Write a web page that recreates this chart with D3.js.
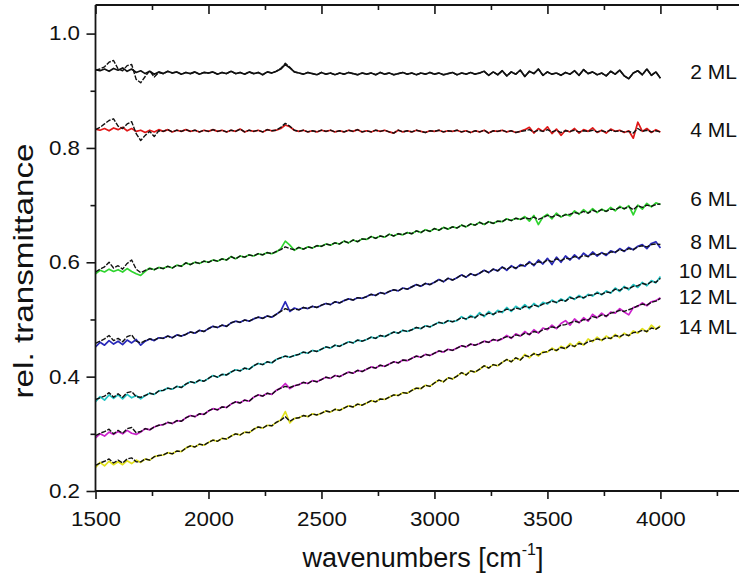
<!DOCTYPE html>
<html>
<head>
<meta charset="utf-8">
<script src="https://cdn.jsdelivr.net/npm/d3@7"></script>
<style>
  body { margin: 0; background: #fff; }
  svg { display: block; }
  text { font-family: "Liberation Sans", Arial, Helvetica, sans-serif; fill: #111; }
</style>
</head>
<body>
<svg id="chart" width="739" height="579"></svg>
<script>
// Sampling grid of the spectra (cm^-1)
const wavenumbers = d3.range(1500, 4001, 20);

const seriesLabels = ["2 ML", "4 ML", "6 ML", "8 ML", "10 ML", "12 ML", "14 ML"];
const seriesColors = ["#111111", "#e01818", "#2fd42f", "#2828b8", "#22c4c4", "#cc22cc", "#e2e21c"];
// vertical anchor (in transmittance) of each film label at the right
const labelValues = [0.934, 0.832, 0.712, 0.637, 0.585, 0.541, 0.488];

const xMajorTicks = [1500, 2000, 2500, 3000, 3500, 4000];
const xMinorTicks = [1750, 2250, 2750, 3250, 3750, 4250];
const yMajorTicks = [0.2, 0.4, 0.6, 0.8, 1.0];
const yMinorTicks = [0.3, 0.5, 0.7, 0.9];

// measured spectra (solid, coloured)
const measured2 = [0.937,0.935,0.938,0.934,0.939, 0.936,0.940,0.934,0.938,0.932, 0.935,0.930,0.934,0.929,0.933, 0.930,0.934,0.931,0.933,0.929, 0.932,0.930,0.933,0.929,0.932, 0.931,0.933,0.929,0.932,0.930, 0.934,0.930,0.932,0.929,0.933, 0.930,0.932,0.928,0.933,0.931, 0.934,0.938,0.946,0.940,0.933, 0.931,0.929,0.932,0.930,0.928, 0.932,0.929,0.931,0.928,0.931, 0.929,0.932,0.930,0.928,0.931, 0.929,0.931,0.928,0.932,0.929, 0.931,0.928,0.930,0.932,0.929, 0.931,0.928,0.931,0.929,0.932, 0.929,0.931,0.928,0.930,0.932, 0.928,0.931,0.929,0.932,0.929, 0.931,0.934,0.927,0.933,0.928, 0.935,0.926,0.933,0.929,0.936, 0.925,0.934,0.930,0.938,0.927, 0.933,0.929,0.931,0.927,0.932, 0.929,0.935,0.927,0.937,0.930, 0.933,0.928,0.931,0.926,0.934, 0.929,0.936,0.926,0.921,0.931, 0.935,0.928,0.938,0.927,0.933, 0.922];
const measured4 = [0.833,0.831,0.834,0.830,0.835, 0.832,0.836,0.830,0.834,0.829, 0.831,0.827,0.831,0.828,0.832, 0.829,0.832,0.828,0.831,0.829, 0.832,0.829,0.831,0.828,0.831, 0.829,0.832,0.829,0.831,0.828, 0.831,0.829,0.833,0.828,0.831, 0.829,0.831,0.828,0.832,0.830, 0.831,0.834,0.840,0.837,0.831, 0.829,0.831,0.828,0.830,0.828, 0.831,0.829,0.831,0.828,0.830, 0.828,0.831,0.829,0.832,0.828, 0.830,0.828,0.831,0.829,0.831, 0.828,0.826,0.831,0.828,0.830, 0.828,0.831,0.829,0.827,0.830, 0.829,0.831,0.828,0.830,0.829, 0.831,0.828,0.830,0.827,0.830, 0.828,0.831,0.826,0.830,0.829, 0.831,0.828,0.830,0.827,0.829, 0.832,0.836,0.826,0.834,0.829, 0.837,0.825,0.833,0.822,0.831, 0.828,0.834,0.826,0.832,0.829, 0.835,0.827,0.831,0.826,0.833, 0.829,0.831,0.827,0.830,0.817, 0.845,0.829,0.834,0.827,0.832, 0.828];
const measured6 = [0.580,0.586,0.583,0.588,0.584, 0.587,0.583,0.589,0.584,0.580, 0.577,0.584,0.590,0.587,0.591, 0.589,0.593,0.590,0.595,0.593, 0.599,0.596,0.600,0.598,0.602, 0.600,0.604,0.602,0.606,0.604, 0.610,0.606,0.611,0.609,0.613, 0.611,0.615,0.613,0.617,0.615, 0.618,0.624,0.637,0.630,0.621, 0.626,0.623,0.627,0.625,0.629, 0.628,0.632,0.630,0.634,0.632, 0.637,0.634,0.639,0.636,0.641, 0.640,0.645,0.642,0.646,0.644, 0.649,0.646,0.650,0.648,0.652, 0.650,0.655,0.652,0.657,0.654, 0.659,0.656,0.661,0.658,0.662, 0.660,0.665,0.662,0.667,0.665, 0.670,0.666,0.671,0.668,0.672, 0.671,0.676,0.673,0.677,0.675, 0.680,0.672,0.682,0.666,0.679, 0.684,0.676,0.686,0.679,0.684, 0.681,0.690,0.684,0.692,0.686, 0.694,0.687,0.693,0.689,0.696, 0.690,0.698,0.693,0.699,0.683, 0.700,0.693,0.703,0.697,0.704, 0.701];
const measured8 = [0.452,0.460,0.455,0.463,0.457, 0.462,0.456,0.464,0.459,0.465, 0.455,0.462,0.466,0.463,0.468, 0.467,0.471,0.468,0.473,0.471, 0.474,0.478,0.476,0.481,0.479, 0.484,0.488,0.486,0.490,0.488, 0.494,0.497,0.495,0.499,0.497, 0.501,0.504,0.502,0.506,0.504, 0.509,0.515,0.531,0.514,0.520, 0.517,0.521,0.519,0.523,0.521, 0.525,0.528,0.526,0.531,0.529, 0.533,0.536,0.534,0.538,0.537, 0.540,0.544,0.542,0.547,0.545, 0.549,0.552,0.550,0.555,0.553, 0.557,0.561,0.558,0.563,0.561, 0.565,0.570,0.566,0.572,0.569, 0.573,0.578,0.574,0.580,0.577, 0.581,0.586,0.582,0.588,0.585, 0.592,0.586,0.594,0.589,0.596, 0.593,0.601,0.594,0.604,0.597, 0.607,0.596,0.609,0.600,0.611, 0.604,0.613,0.606,0.616,0.610, 0.618,0.611,0.617,0.612,0.620, 0.617,0.624,0.619,0.626,0.622, 0.628,0.631,0.624,0.633,0.636, 0.625];
const measured10 = [0.356,0.365,0.359,0.368,0.362, 0.368,0.361,0.369,0.363,0.367, 0.361,0.367,0.371,0.369,0.375, 0.376,0.380,0.378,0.383,0.381, 0.387,0.391,0.389,0.394,0.392, 0.397,0.402,0.399,0.404,0.403, 0.408,0.412,0.410,0.415,0.413, 0.419,0.423,0.421,0.426,0.424, 0.430,0.433,0.436,0.434,0.437, 0.439,0.443,0.441,0.446,0.444, 0.448,0.452,0.450,0.455,0.453, 0.457,0.461,0.459,0.464,0.462, 0.465,0.469,0.467,0.472,0.470, 0.474,0.478,0.476,0.481,0.479, 0.482,0.486,0.484,0.489,0.487, 0.491,0.495,0.493,0.498,0.496, 0.498,0.505,0.500,0.507,0.503, 0.512,0.505,0.514,0.508,0.516, 0.512,0.521,0.514,0.523,0.518, 0.526,0.519,0.528,0.522,0.530, 0.527,0.534,0.529,0.536,0.532, 0.540,0.535,0.542,0.537,0.544, 0.541,0.548,0.543,0.550,0.546, 0.555,0.549,0.558,0.552,0.561, 0.556,0.565,0.559,0.568,0.564, 0.575];
const measured12 = [0.293,0.300,0.296,0.303,0.299, 0.304,0.300,0.306,0.301,0.299, 0.303,0.309,0.307,0.312,0.315, 0.316,0.320,0.318,0.323,0.322, 0.328,0.332,0.330,0.335,0.334, 0.340,0.344,0.342,0.347,0.346, 0.352,0.356,0.354,0.359,0.357, 0.364,0.368,0.366,0.371,0.369, 0.376,0.380,0.388,0.379,0.384, 0.386,0.390,0.388,0.393,0.391, 0.395,0.399,0.397,0.402,0.400, 0.404,0.408,0.406,0.411,0.409, 0.413,0.417,0.415,0.420,0.418, 0.422,0.426,0.424,0.429,0.428, 0.432,0.436,0.434,0.439,0.437, 0.441,0.445,0.443,0.448,0.446, 0.450,0.454,0.452,0.457,0.455, 0.458,0.462,0.460,0.465,0.463, 0.466,0.472,0.467,0.475,0.471, 0.479,0.473,0.482,0.476,0.485, 0.482,0.490,0.484,0.493,0.498, 0.490,0.501,0.494,0.503,0.497, 0.509,0.503,0.511,0.505,0.513, 0.511,0.519,0.513,0.508,0.521, 0.523,0.529,0.524,0.531,0.533, 0.538];
const measured14 = [0.241,0.250,0.244,0.252,0.246, 0.251,0.246,0.253,0.248,0.254, 0.250,0.256,0.254,0.260,0.262, 0.263,0.267,0.265,0.270,0.269, 0.275,0.279,0.277,0.282,0.280, 0.285,0.289,0.287,0.292,0.291, 0.296,0.300,0.298,0.303,0.302, 0.308,0.312,0.310,0.315,0.314, 0.320,0.324,0.339,0.319,0.327, 0.328,0.332,0.330,0.335,0.333, 0.336,0.340,0.338,0.343,0.341, 0.345,0.349,0.347,0.352,0.350, 0.354,0.358,0.356,0.361,0.360, 0.364,0.368,0.367,0.372,0.371, 0.376,0.380,0.379,0.385,0.383, 0.389,0.394,0.391,0.398,0.396, 0.401,0.407,0.403,0.410,0.408, 0.413,0.419,0.415,0.421,0.419, 0.425,0.430,0.426,0.433,0.429, 0.439,0.433,0.441,0.436,0.444, 0.443,0.450,0.445,0.453,0.449, 0.458,0.452,0.461,0.455,0.466, 0.461,0.469,0.463,0.471,0.466, 0.474,0.468,0.476,0.471,0.480, 0.476,0.484,0.478,0.490,0.483, 0.489];

// simulated spectra (black, dashed)
const simulated2 = [0.936,0.938,0.942,0.950,0.953, 0.938,0.935,0.944,0.946,0.920, 0.914,0.925,0.935,0.924,0.932, 0.930,0.934,0.931,0.933,0.929, 0.932,0.930,0.933,0.929,0.932, 0.931,0.933,0.929,0.932,0.930, 0.934,0.930,0.932,0.929,0.933, 0.930,0.932,0.928,0.933,0.931, 0.934,0.939,0.948,0.941,0.933, 0.931,0.929,0.932,0.930,0.928, 0.932,0.929,0.931,0.928,0.931, 0.929,0.932,0.930,0.928,0.931, 0.929,0.931,0.928,0.932,0.929, 0.931,0.928,0.930,0.932,0.929, 0.931,0.928,0.931,0.929,0.932, 0.929,0.931,0.928,0.930,0.932, 0.928,0.931,0.929,0.932,0.929, 0.931,0.934,0.927,0.933,0.928, 0.935,0.926,0.933,0.929,0.936, 0.925,0.934,0.930,0.938,0.927, 0.933,0.929,0.931,0.927,0.932, 0.929,0.935,0.927,0.937,0.930, 0.933,0.928,0.931,0.926,0.934, 0.929,0.936,0.926,0.921,0.931, 0.935,0.928,0.938,0.927,0.933, 0.922];
const simulated4 = [0.832,0.836,0.842,0.848,0.851, 0.838,0.834,0.842,0.846,0.825, 0.813,0.822,0.829,0.820,0.830, 0.829,0.832,0.828,0.831,0.829, 0.832,0.829,0.831,0.828,0.831, 0.829,0.832,0.829,0.831,0.828, 0.831,0.829,0.833,0.828,0.831, 0.829,0.831,0.828,0.832,0.830, 0.831,0.836,0.843,0.838,0.831, 0.829,0.831,0.828,0.830,0.828, 0.831,0.829,0.831,0.828,0.830, 0.828,0.831,0.829,0.832,0.828, 0.830,0.828,0.831,0.829,0.831, 0.828,0.826,0.831,0.828,0.830, 0.828,0.831,0.829,0.827,0.830, 0.829,0.831,0.828,0.830,0.829, 0.831,0.828,0.830,0.827,0.830, 0.828,0.831,0.826,0.830,0.829, 0.831,0.828,0.830,0.827,0.829, 0.830,0.832,0.828,0.831,0.829, 0.832,0.828,0.831,0.827,0.830, 0.829,0.831,0.828,0.830,0.829, 0.831,0.828,0.830,0.828,0.831, 0.829,0.830,0.828,0.829,0.826, 0.834,0.829,0.831,0.828,0.830, 0.828];
const simulated6 = [0.583,0.588,0.592,0.600,0.590, 0.594,0.588,0.598,0.604,0.588, 0.582,0.586,0.589,0.587,0.591, 0.589,0.593,0.590,0.595,0.593, 0.599,0.596,0.600,0.598,0.602, 0.600,0.604,0.602,0.606,0.604, 0.610,0.606,0.611,0.609,0.613, 0.611,0.615,0.613,0.617,0.615, 0.619,0.622,0.627,0.624,0.622, 0.626,0.623,0.627,0.625,0.629, 0.628,0.632,0.630,0.634,0.632, 0.637,0.634,0.639,0.636,0.641, 0.640,0.645,0.642,0.646,0.644, 0.649,0.646,0.650,0.648,0.652, 0.650,0.655,0.652,0.657,0.654, 0.659,0.656,0.661,0.658,0.662, 0.660,0.665,0.662,0.667,0.665, 0.670,0.666,0.671,0.668,0.672, 0.671,0.676,0.673,0.677,0.675, 0.678,0.676,0.679,0.675,0.678, 0.682,0.679,0.683,0.680,0.683, 0.684,0.687,0.685,0.689,0.686, 0.691,0.688,0.692,0.689,0.693, 0.692,0.696,0.694,0.697,0.692, 0.699,0.696,0.700,0.698,0.701, 0.702];
const simulated8 = [0.458,0.462,0.466,0.472,0.463, 0.467,0.461,0.470,0.473,0.462, 0.459,0.463,0.466,0.464,0.468, 0.467,0.471,0.468,0.473,0.471, 0.474,0.478,0.476,0.481,0.479, 0.484,0.488,0.486,0.490,0.488, 0.494,0.497,0.495,0.499,0.497, 0.501,0.504,0.502,0.506,0.504, 0.509,0.514,0.519,0.516,0.518, 0.517,0.521,0.519,0.523,0.521, 0.525,0.528,0.526,0.531,0.529, 0.533,0.536,0.534,0.538,0.537, 0.540,0.544,0.542,0.547,0.545, 0.549,0.552,0.550,0.555,0.553, 0.557,0.561,0.558,0.563,0.561, 0.565,0.570,0.566,0.572,0.569, 0.573,0.578,0.574,0.580,0.577, 0.581,0.586,0.582,0.588,0.585, 0.591,0.588,0.592,0.590,0.594, 0.595,0.599,0.596,0.601,0.599, 0.604,0.601,0.606,0.603,0.607, 0.606,0.610,0.608,0.612,0.610, 0.615,0.613,0.616,0.614,0.618, 0.618,0.622,0.620,0.624,0.622, 0.627,0.629,0.627,0.631,0.632, 0.631];
const simulated10 = [0.360,0.363,0.366,0.372,0.364, 0.370,0.364,0.372,0.374,0.365, 0.364,0.367,0.371,0.369,0.375, 0.376,0.380,0.378,0.383,0.381, 0.387,0.391,0.389,0.394,0.392, 0.397,0.402,0.399,0.404,0.403, 0.408,0.412,0.410,0.415,0.413, 0.419,0.423,0.421,0.426,0.424, 0.430,0.433,0.436,0.434,0.437, 0.439,0.443,0.441,0.446,0.444, 0.448,0.452,0.450,0.455,0.453, 0.457,0.461,0.459,0.464,0.462, 0.465,0.469,0.467,0.472,0.470, 0.474,0.478,0.476,0.481,0.479, 0.482,0.486,0.484,0.489,0.487, 0.491,0.495,0.493,0.498,0.496, 0.499,0.503,0.501,0.505,0.503, 0.509,0.507,0.511,0.509,0.513, 0.514,0.518,0.516,0.520,0.518, 0.523,0.521,0.525,0.523,0.527, 0.529,0.532,0.530,0.534,0.532, 0.538,0.536,0.540,0.538,0.542, 0.543,0.546,0.544,0.548,0.547, 0.553,0.551,0.556,0.554,0.558, 0.559,0.563,0.561,0.566,0.565, 0.572];
const simulated12 = [0.297,0.301,0.304,0.308,0.300, 0.306,0.301,0.309,0.311,0.302, 0.304,0.309,0.307,0.312,0.315, 0.316,0.320,0.318,0.323,0.322, 0.328,0.332,0.330,0.335,0.334, 0.340,0.344,0.342,0.347,0.346, 0.352,0.356,0.354,0.359,0.357, 0.364,0.368,0.366,0.371,0.369, 0.376,0.380,0.383,0.381,0.384, 0.386,0.390,0.388,0.393,0.391, 0.395,0.399,0.397,0.402,0.400, 0.404,0.408,0.406,0.411,0.409, 0.413,0.417,0.415,0.420,0.418, 0.422,0.426,0.424,0.429,0.428, 0.432,0.436,0.434,0.439,0.437, 0.441,0.445,0.443,0.448,0.446, 0.450,0.454,0.452,0.457,0.455, 0.458,0.462,0.460,0.465,0.463, 0.467,0.470,0.468,0.473,0.471, 0.476,0.474,0.479,0.477,0.482, 0.484,0.487,0.485,0.490,0.491, 0.494,0.497,0.495,0.500,0.499, 0.505,0.503,0.508,0.506,0.511, 0.513,0.516,0.514,0.517,0.520, 0.524,0.527,0.525,0.530,0.532, 0.537];
const simulated14 = [0.245,0.249,0.252,0.256,0.249, 0.254,0.249,0.256,0.258,0.251, 0.251,0.256,0.254,0.260,0.262, 0.263,0.267,0.265,0.270,0.269, 0.275,0.279,0.277,0.282,0.280, 0.285,0.289,0.287,0.292,0.291, 0.296,0.300,0.298,0.303,0.302, 0.308,0.312,0.310,0.315,0.314, 0.320,0.324,0.330,0.322,0.327, 0.328,0.332,0.330,0.335,0.333, 0.336,0.340,0.338,0.343,0.341, 0.345,0.349,0.347,0.352,0.350, 0.354,0.358,0.356,0.361,0.360, 0.364,0.368,0.367,0.372,0.371, 0.376,0.380,0.379,0.385,0.383, 0.389,0.394,0.391,0.398,0.396, 0.401,0.407,0.403,0.410,0.408, 0.413,0.419,0.415,0.421,0.419, 0.425,0.430,0.426,0.433,0.429, 0.437,0.435,0.440,0.438,0.442, 0.444,0.448,0.446,0.451,0.449, 0.455,0.453,0.458,0.456,0.461, 0.463,0.466,0.464,0.468,0.467, 0.472,0.470,0.474,0.472,0.477, 0.478,0.481,0.479,0.485,0.483, 0.488];

const measuredSeries = [measured2, measured4, measured6, measured8, measured10, measured12, measured14];
const simulatedSeries = [simulated2, simulated4, simulated6, simulated8, simulated10, simulated12, simulated14];

// ---- layout ----
const svg = d3.select("#chart");
const plotLeft = 95.5, plotRight = 739.5, plotTop = 5, plotBottom = 491;
const x = d3.scaleLinear().domain([1500, 4350]).range([plotLeft, plotRight]);
const y = d3.scaleLinear().domain([0.2, 1.05]).range([plotBottom, plotTop]);
const axisColor = "#151515";
const tickFont = 20, stretch = 1.12;

svg.append("defs").append("clipPath").attr("id", "plotClip")
  .append("rect").attr("x", plotLeft).attr("y", plotTop)
  .attr("width", plotRight - plotLeft).attr("height", plotBottom - plotTop);

// ---- spectra ----
const line = d3.line().x((d, i) => x(wavenumbers[i])).y(d => y(d));
const plot = svg.append("g").attr("clip-path", "url(#plotClip)");
measuredSeries.forEach((vals, k) => {
  plot.append("path").datum(vals)
    .attr("d", line).attr("fill", "none")
    .attr("stroke", seriesColors[k]).attr("stroke-width", 1.7)
    .attr("stroke-linejoin", "round");
  plot.append("path").datum(simulatedSeries[k])
    .attr("d", line).attr("fill", "none")
    .attr("stroke", "#111").attr("stroke-width", 1.4)
    .attr("stroke-dasharray", "5,1.5")
    .attr("stroke-linejoin", "round");
});

// ---- axes ----
function styleAxis(g) {
  g.selectAll(".domain").remove();
  g.selectAll(".tick line").attr("stroke", axisColor).attr("stroke-width", 1.6);
  g.selectAll(".tick text").attr("font-size", tickFont).attr("fill", "#111")
    .attr("font-family", "'Liberation Sans', Arial, sans-serif");
}

// bottom
svg.append("g").attr("transform", `translate(0,${plotBottom})`)
  .call(d3.axisBottom(x).tickValues(xMajorTicks).tickSize(8).tickPadding(13).tickFormat(d3.format("d")))
  .call(styleAxis)
  .call(g => g.selectAll(".tick text").attr("transform", `scale(${stretch},1)`));
svg.append("g").attr("transform", `translate(0,${plotBottom})`)
  .call(d3.axisBottom(x).tickValues(xMinorTicks).tickSize(5).tickFormat(""))
  .call(styleAxis);
// top (ticks pointing inwards)
svg.append("g").attr("transform", `translate(0,${plotTop})`)
  .call(d3.axisBottom(x).tickValues(xMajorTicks).tickSize(9).tickFormat(""))
  .call(styleAxis);
svg.append("g").attr("transform", `translate(0,${plotTop})`)
  .call(d3.axisBottom(x).tickValues(xMinorTicks).tickSize(5).tickFormat(""))
  .call(styleAxis);
// left
svg.append("g").attr("transform", `translate(${plotLeft},0)`)
  .call(d3.axisLeft(y).tickValues(yMajorTicks).tickSize(9).tickPadding(4.8).tickFormat(d3.format(".1f")))
  .call(styleAxis)
  .call(g => g.selectAll(".tick text").attr("transform", `scale(${stretch},1)`));
svg.append("g").attr("transform", `translate(${plotLeft},0)`)
  .call(d3.axisLeft(y).tickValues(yMinorTicks).tickSize(5).tickFormat(""))
  .call(styleAxis);

// axis lines
svg.append("line").attr("x1", plotLeft).attr("x2", plotRight).attr("y1", plotBottom).attr("y2", plotBottom)
  .attr("stroke", axisColor).attr("stroke-width", 1.8);
svg.append("line").attr("x1", plotLeft).attr("x2", plotRight).attr("y1", plotTop).attr("y2", plotTop)
  .attr("stroke", axisColor).attr("stroke-width", 1.8);
svg.append("line").attr("x1", plotLeft).attr("x2", plotLeft).attr("y1", plotTop).attr("y2", plotBottom)
  .attr("stroke", axisColor).attr("stroke-width", 1.8);

// ---- axis titles ----
const xTitle = svg.append("text").attr("x", 423).attr("y", 567)
  .attr("text-anchor", "middle").attr("font-size", 27);
xTitle.append("tspan").text("wavenumbers [cm");
xTitle.append("tspan").attr("dy", -12).attr("font-size", 16).text("-1");
xTitle.append("tspan").attr("dy", 12).text("]");

svg.append("text")
  .attr("transform", `translate(33,271) rotate(-90)`)
  .attr("text-anchor", "middle").attr("font-size", 27)
  .attr("textLength", 255).attr("lengthAdjust", "spacingAndGlyphs")
  .text("rel. transmittance");

// ---- film labels ----
svg.append("g").selectAll("text").data(seriesLabels).join("text")
  .attr("x", 737).attr("y", (d, i) => y(labelValues[i]) + 7.5)
  .attr("text-anchor", "end").attr("font-size", 21)
  .text(d => d);
</script>
</body>
</html>
